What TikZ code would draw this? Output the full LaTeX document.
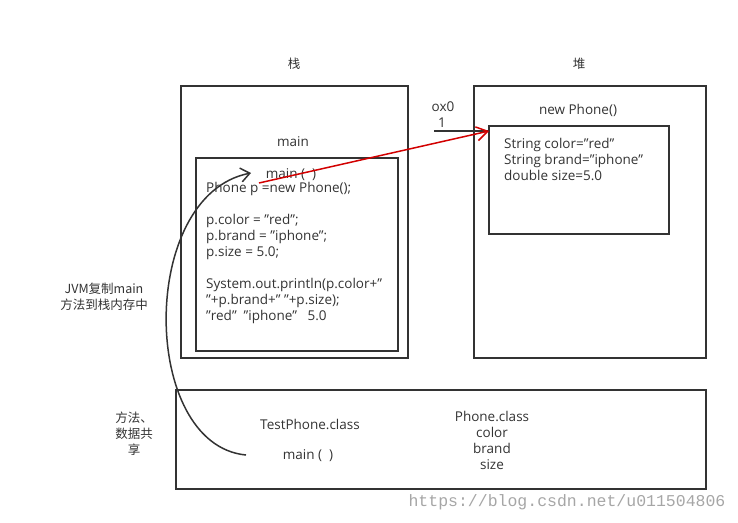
\documentclass[tikz,border=0pt]{standalone}
\usepackage{fontspec}
\setmainfont{Open Sans}[Ligatures=ResetAll]
\newfontfamily\cjk{Noto Sans CJK SC}
\newfontfamily\wmfont{Liberation Mono}
\usetikzlibrary{arrows.meta}
\definecolor{ink}{HTML}{333333}
\definecolor{refred}{HTML}{D20000}
\tikzset{
  box/.style={draw=ink, line width=2pt, inner sep=0pt, outer sep=0pt},
  lbl/.style={text=ink, inner sep=0pt, font=\fontsize{13.5}{16}\selectfont},
  code/.style={lbl, align=left, anchor=north west},
  ctr/.style={lbl, align=center},
  cjklbl/.style={ctr, font=\cjk\fontsize{12.5}{16}\selectfont},
}
\begin{document}
\begin{tikzpicture}[x=1pt,y=-1pt]
\useasboundingbox (0,0) rectangle (738,522);

% stack area
\node[cjklbl] (stacklbl) at (294,64) {栈};
\node[box, minimum width=227pt, minimum height=272pt] (stack) at (294.5,222) {};
\node[lbl] (framelbl) at (293,142) {main};
\node[box, minimum width=202pt, minimum height=193pt] (frame) at (297,254.5) {};
\node[lbl] (mainsig) at (291,175) {main (\ \ )};
\node[code] (codetxt) at (206,182) {Phone p =new Phone();\\[16pt]
p.color = "red";\\
p.brand = "iphone";\\
p.size = 5.0;\\[16pt]
System.out.println(p.color+"\\
"+p.brand+" "+p.size);\\
"red"\ \ "iphone"\ \ \ 5.0};

% heap area
\node[cjklbl] (heaplbl) at (579,64) {堆};
\node[box, minimum width=232pt, minimum height=272pt] (heap) at (590,222) {};
\node[lbl] (newlbl) at (578,110) {new Phone()};
\node[box, minimum width=180pt, minimum height=108pt] (obj) at (579,180) {};
\node[code] (objtxt) at (504,138) {String color="red"\\
String brand="iphone"\\
double size=5.0};

% reference value
\node[lbl] (addr) at (443,107) {ox0};
\node[lbl] (addr1) at (442,123) {1};
\coordinate (refstart) at (434,131);
\draw[ink, line width=1.5pt] (refstart) -- ([yshift=-5pt]obj.north west);
\coordinate (pvar) at (259,183);
\draw[refred, line width=1.5pt, -{Straight Barb[length=11pt,width=14pt,line width=1.5pt]}]
  (pvar) -- ([yshift=-5pt]obj.north west);

% method area
\node[box, minimum width=530pt, minimum height=99pt] (method) at (441,439.5) {};
\node[lbl] (testcls) at (310,424) {TestPhone.class};
\node[lbl] (mainm) at (308,456) {main (\ \ )};
\node[ctr] (phonecls) at (492,440) {Phone.class\\color\\brand\\size};

% side notes
\node[cjklbl] (jvmnote) at (104,297) {JVM复制main\\方法到栈内存中};
\node[cjklbl] (sharenote) at (134,434) {方法、\\数据共\\享};

% copy of main() onto the stack
\coordinate (mstart) at (246,455);
\coordinate (mend) at (251,173);
\draw[ink, line width=1.5pt, -{Straight Barb[length=9pt,width=14pt,line width=1.5pt]}]
  (mstart) .. controls (140,445) and (138,195) .. (mend);

% watermark
\node[text=black!35, inner sep=0pt, font=\wmfont\fontsize{16.5}{18}\selectfont] (wm) at (567,502) {https://blog.csdn.net/u011504806};
\end{tikzpicture}
\end{document}
